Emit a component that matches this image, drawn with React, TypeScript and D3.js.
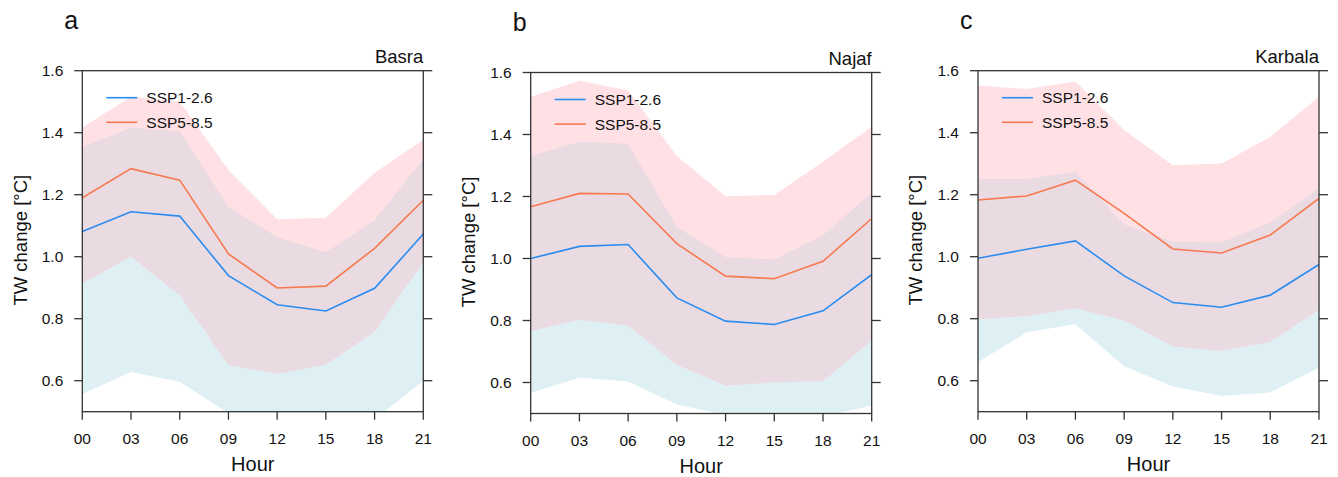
import * as d3 from "d3"
import React from "react"

const hours = ["00", "03", "06", "09", "12", "15", "18", "21"]
const cities = ["Basra", "Najaf", "Karbala"]
const panelLetters = ["a", "b", "c"]
const yTicks = [0.6, 0.8, 1.0, 1.2, 1.4, 1.6]

// SSP1-2.6 mean and range
const ssp126Mean = [
  [1.081, 1.145, 1.131, 0.939, 0.845, 0.825, 0.898, 1.073],
  [1.0, 1.039, 1.045, 0.873, 0.798, 0.787, 0.831, 0.948],
  [0.995, 1.024, 1.051, 0.938, 0.852, 0.837, 0.876, 0.975],
]
const ssp126High = [
  [1.355, 1.416, 1.405, 1.161, 1.063, 1.014, 1.118, 1.314],
  [1.331, 1.377, 1.37, 1.102, 1.005, 0.997, 1.075, 1.213],
  [1.251, 1.251, 1.274, 1.105, 1.048, 1.046, 1.11, 1.221],
]
const ssp126Low = [
  [0.557, 0.628, 0.597, 0.495, 0.45, 0.45, 0.475, 0.6],
  [0.567, 0.615, 0.603, 0.529, 0.495, 0.48, 0.49, 0.526],
  [0.66, 0.756, 0.782, 0.647, 0.581, 0.551, 0.562, 0.642],
]

// SSP5-8.5 mean and range
const ssp585Mean = [
  [1.19, 1.284, 1.247, 1.009, 0.899, 0.905, 1.027, 1.182],
  [1.167, 1.21, 1.208, 1.048, 0.943, 0.935, 0.991, 1.129],
  [1.183, 1.196, 1.247, 1.14, 1.025, 1.012, 1.07, 1.188],
]
const ssp585High = [
  [1.417, 1.516, 1.5, 1.28, 1.121, 1.126, 1.271, 1.377],
  [1.522, 1.573, 1.542, 1.331, 1.201, 1.205, 1.312, 1.425],
  [1.552, 1.541, 1.565, 1.409, 1.295, 1.301, 1.387, 1.516],
]
const ssp585Low = [
  [0.914, 1.0, 0.876, 0.651, 0.622, 0.652, 0.758, 0.984],
  [0.765, 0.803, 0.784, 0.657, 0.59, 0.601, 0.604, 0.736],
  [0.798, 0.809, 0.834, 0.794, 0.711, 0.696, 0.726, 0.828],
]

const panelLeft = [82.3, 530.7, 978]
const panelTop = [70.7, 72.5, 70.7]
const W = 341
const H = 341

const blue = "#2a8cf0"
const orange = "#f7794f"
const font = "'Liberation Sans', Arial, Helvetica, sans-serif"
const axisColor = "#333"

const Panel = ({ idx }: { idx: number }) => {
  const x = d3.scalePoint<string>().domain(hours).range([0, W])
  const y = d3.scaleLinear().domain([0.5, 1.6]).range([H, 0])
  const band = (lo: number[], hi: number[]) =>
    d3.area<string>()
      .x((d) => x(d) as number)
      .y0((d, i) => y(lo[i]))
      .y1((d, i) => y(hi[i]))(hours) as string
  const line = (v: number[]) =>
    d3.line<string>()
      .x((d) => x(d) as number)
      .y((d, i) => y(v[i]))(hours) as string
  const blueBand = band(ssp126Low[idx], ssp126High[idx])
  const pinkBand = band(ssp585Low[idx], ssp585High[idx])
  const clipId = `plotclip${idx}`
  const ovId = `ovclip${idx}`
  return (
    <g transform={`translate(${panelLeft[idx]},${panelTop[idx]})`} fontFamily={font}>
      <defs>
        <clipPath id={clipId}>
          <rect x={0} y={0} width={W} height={H} />
        </clipPath>
        <clipPath id={ovId}>
          <path d={pinkBand} />
        </clipPath>
      </defs>
      <g clipPath={`url(#${clipId})`}>
        <path d={blueBand} fill="#dff0f4" />
        <path d={pinkBand} fill="#ffe1e5" />
        <g clipPath={`url(#${ovId})`}>
          <path d={blueBand} fill="#eadbe2" />
        </g>
        <path d={line(ssp126Mean[idx])} fill="none" stroke={blue} strokeWidth={1.6} />
        <path d={line(ssp585Mean[idx])} fill="none" stroke={orange} strokeWidth={1.6} />
      </g>
      <rect x={0} y={0} width={W} height={H} fill="none" stroke={axisColor} strokeWidth={1.3} />
      {yTicks.map((t) => (
        <g key={t}>
          <line x1={-8} x2={0} y1={y(t)} y2={y(t)} stroke={axisColor} strokeWidth={1.3} />
          <line x1={W} x2={W + 9} y1={y(t)} y2={y(t)} stroke={axisColor} strokeWidth={1.3} />
          <text x={-19} y={y(t)} dy="0.35em" textAnchor="end" fontSize={15.5} fill="#111">
            {t.toFixed(1)}
          </text>
        </g>
      ))}
      {hours.map((h) => (
        <g key={h}>
          <line x1={x(h)} x2={x(h)} y1={H} y2={H + 8} stroke={axisColor} strokeWidth={1.3} />
          <text x={x(h)} y={H + 32} textAnchor="middle" fontSize={15.5} fill="#111">{h}</text>
        </g>
      ))}
      <text x={W / 2} y={H + 59} textAnchor="middle" fontSize={20} fill="#111">Hour</text>
      <text
        transform={`translate(${-62},${H / 2 - 1}) rotate(-90)`}
        textAnchor="middle"
        dy="0.35em"
        fontSize={18.5}
        fill="#111"
      >TW change [°C]</text>
      <text x={W} y={-8} textAnchor="end" fontSize={18.5} fill="#111">{cities[idx]}</text>
      <text x={-18} y={-42} fontSize={25} fill="#111">{panelLetters[idx]}</text>
      {[["SSP1-2.6", blue], ["SSP5-8.5", orange]].map(([label, c], i) => (
        <g key={label} transform={`translate(24,${27 + i * 24.6})`}>
          <line x1={0} x2={31} y1={0} y2={0} stroke={c} strokeWidth={1.6} />
          <text x={40} y={0} dy="0.35em" fontSize={15.5} fill="#111">{label}</text>
        </g>
      ))}
    </g>
  )
}

export default function App() {
  return (
    <svg
      width={1338}
      height={477}
      style={{ position: "absolute", left: 0, top: 0, background: "#fff" }}
    >
      {cities.map((c, i) => <Panel key={c} idx={i} />)}
    </svg>
  )
}
